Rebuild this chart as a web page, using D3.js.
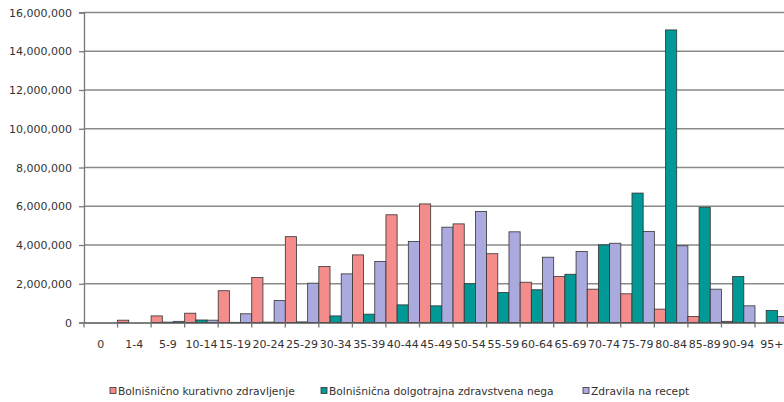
<!DOCTYPE html>
<html>
<head>
<meta charset="utf-8">
<script src="https://cdn.jsdelivr.net/npm/d3@7"></script>
<style>
  html, body { margin: 0; padding: 0; background: #fff; }
  svg { display: block; }
  text { font-family: "DejaVu Sans", sans-serif; fill: #333; }
</style>
</head>
<body>
<svg id="chart" width="784" height="402"></svg>
<script>
// Age groups (x axis)
const categories = ["0","1-4","5-9","10-14","15-19","20-24","25-29","30-34","35-39","40-44","45-49",
  "50-54","55-59","60-64","65-69","70-74","75-79","80-84","85-89","90-94","95+"];

// Series names
const seriesNames = [
  "Bolnišnično kurativno zdravljenje",
  "Bolnišnična dolgotrajna zdravstvena nega",
  "Zdravila na recept"
];

// Series values per age group
const kurativno = [0, 120000, 340000, 480000, 1640000, 2320000, 4430000, 2890000, 3490000, 5560000, 6120000,
  5090000, 3550000, 2080000, 2370000, 1720000, 1480000, 690000, 310000, 60000, 0];
const dolgotrajna = [0, 0, 20000, 130000, 10000, 20000, 30000, 340000, 430000, 910000, 860000,
  2000000, 1550000, 1690000, 2490000, 4010000, 6680000, 15100000, 5950000, 2370000, 620000];
const recept = [0, 0, 60000, 120000, 450000, 1130000, 2030000, 2510000, 3150000, 4180000, 4920000,
  5730000, 4680000, 3370000, 3660000, 4090000, 4700000, 3960000, 1720000, 860000, 310000];

// Y axis tick values
const yTicks = [0, 2000000, 4000000, 6000000, 8000000, 10000000, 12000000, 14000000, 16000000];

const colors = ["#f48c8c", "#009995", "#aaaade"];
const seriesValues = [kurativno, dolgotrajna, recept];

const svg = d3.select("#chart");

const plotLeft = 84, plotTop = 12.5, plotBottom = 322.5;
const step = 33.55;
const x = d3.scaleBand().domain(categories).range([plotLeft, plotLeft + step * categories.length]).padding(0);
const xs = d3.scaleBand().domain(d3.range(seriesNames.length)).range([0, x.bandwidth()]).padding(0);
const y = d3.scaleLinear().domain([0, 16000000]).range([plotBottom, plotTop]);

// Horizontal gridlines
svg.append("g").selectAll("line")
  .data(yTicks.filter(d => d > 0))
  .join("line")
  .attr("x1", plotLeft).attr("x2", 784)
  .attr("y1", d => y(d)).attr("y2", d => y(d))
  .attr("stroke", "#8a8a8a").attr("stroke-width", 1.3);

// Bars
const rows = categories.map((c, i) => ({ c, vals: seriesValues.map(s => s[i]) }));
svg.append("g").selectAll("g")
  .data(rows)
  .join("g")
  .attr("transform", d => `translate(${x(d.c)},0)`)
  .selectAll("rect")
  .data(d => d.vals.map((v, k) => ({ k, v })).filter(e => e.v > 0))
  .join("rect")
  .attr("x", e => xs(e.k))
  .attr("width", xs.bandwidth())
  .attr("y", e => y(e.v))
  .attr("height", e => plotBottom - y(e.v))
  .attr("fill", e => colors[e.k])
  .attr("stroke", "#333")
  .attr("stroke-width", 0.8);

// Y axis
const yAxis = svg.append("g")
  .attr("transform", `translate(${plotLeft},0)`)
  .call(d3.axisLeft(y).tickValues(yTicks).tickFormat(d3.format(",")).tickSize(5).tickPadding(7));
yAxis.select(".domain").attr("stroke", "#777").attr("stroke-width", 1.3);
yAxis.selectAll(".tick line").attr("stroke", "#777").attr("stroke-width", 1.3);
yAxis.selectAll("text").style("font-size", "11px").attr("fill", "#333");

// X axis: labels centred under each age group
const xAxis = svg.append("g")
  .attr("transform", `translate(0,${plotBottom})`)
  .call(d3.axisBottom(x).tickSize(0).tickPadding(18));
xAxis.select(".domain").attr("stroke", "#555").attr("stroke-width", 1.3);
xAxis.selectAll("text").style("font-size", "11px").attr("fill", "#333");

// X axis tick marks on group boundaries
svg.append("g").selectAll("line")
  .data(categories.map(c => x(c)).concat([x.range()[1]]))
  .join("line")
  .attr("x1", d => d).attr("x2", d => d)
  .attr("y1", plotBottom).attr("y2", plotBottom + 5)
  .attr("stroke", "#777").attr("stroke-width", 1.3);

// Legend
const legendX = [110, 321, 583];
const legend = svg.append("g").selectAll("g")
  .data(seriesNames)
  .join("g")
  .attr("transform", (d, i) => `translate(${legendX[i]},391)`);
legend.append("rect")
  .attr("x", 0).attr("y", -3.5).attr("width", 6).attr("height", 6)
  .attr("fill", (d, i) => colors[i]).attr("stroke", "#333").attr("stroke-width", 0.8);
legend.append("text")
  .attr("x", 8).attr("y", 0).attr("dy", "0.35em")
  .style("font-size", "10.7px")
  .text(d => d);
</script>
</body>
</html>
